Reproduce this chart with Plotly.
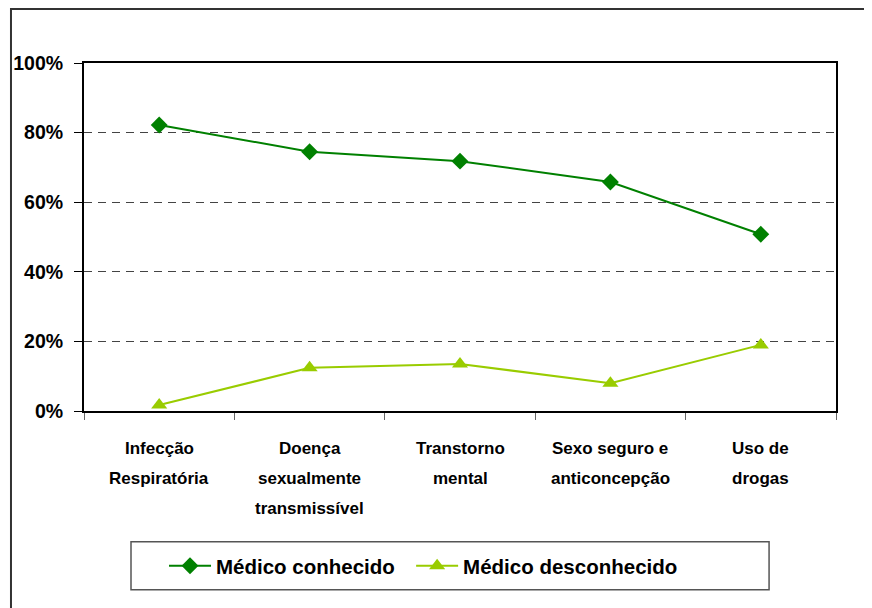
import plotly.graph_objects as go

categories = ["Infecção<br>Respiratória", "Doença<br>sexualmente<br>transmissível",
              "Transtorno<br>mental", "Sexo seguro e<br>anticoncepção", "Uso de<br>drogas"]
conhecido = [0.822, 0.745, 0.718, 0.658, 0.508]
desconhecido = [0.017, 0.124, 0.135, 0.080, 0.190]
series_names = ["Médico conhecido", "Médico desconhecido"]

FONT = "Liberation Sans"
fig = go.Figure()
fig.add_trace(go.Scatter(x=categories, y=conhecido, name=series_names[0], mode="lines+markers",
                         line=dict(color="#008000", width=2), legend="legend",
                         marker=dict(symbol="diamond", size=13, color="#008000")))
fig.add_trace(go.Scatter(x=categories, y=desconhecido, name=series_names[1], mode="lines+markers",
                         line=dict(color="#99CC00", width=2), legend="legend2",
                         marker=dict(symbol="triangle-up", size=14, color="#99CC00")))

# category labels with wide line spacing
for c in categories:
    for i, line in enumerate(c.split("<br>")):
        fig.add_annotation(x=c, y=0, xref="x", yref="paper", text=line, showarrow=False,
                           yanchor="middle", yshift=-(37 + 30 * i),
                           font=dict(family=FONT, size=17, color="black", weight="bold"))

shapes = [
    # outer frame (partially visible)
    dict(type="path", xref="paper", yref="paper",
         path="M -0.0971,-0.7 L -0.0971,1.155 L 1.1,1.155",
         line=dict(color="#333333", width=2)),
    # legend box
    dict(type="rect", xref="paper", yref="paper", x0=0.0625, x1=0.911, y0=-0.514, y1=-0.376,
         line=dict(color="#555555", width=1.5)),
]

leg_common = dict(orientation="h", y=-0.445, yanchor="middle", xanchor="left",
                  font=dict(family=FONT, size=20.5, color="black", weight="bold"),
                  itemwidth=42, bgcolor="rgba(0,0,0,0)", borderwidth=0)

fig.update_layout(
    width=864, height=600,
    margin=dict(l=76, r=36, t=55, b=197, autoexpand=False),
    paper_bgcolor="white", plot_bgcolor="white",
    font=dict(family=FONT, color="black"),
    showlegend=True,
    legend=dict(x=0.1064, **leg_common),
    legend2=dict(x=0.435, **leg_common),
    shapes=shapes,
    xaxis=dict(type="category", range=[-0.5, 4.5], tickson="boundaries", ticks="outside", ticklen=7,
               tickcolor="#666666", showticklabels=False, showgrid=False, automargin=False,
               showline=True, linecolor="black", linewidth=2, mirror=True),
    yaxis=dict(range=[0, 1], tickvals=[0, 0.2, 0.4, 0.6, 0.8, 1.0], tickformat=".0%",
               ticks="outside", ticklen=8, tickcolor="black", ticklabelstandoff=7,
               tickfont=dict(family=FONT, size=19.5, color="black", weight="bold"),
               showgrid=True, gridcolor="#444444", griddash="8px,6px", gridwidth=1,
               automargin=False,
               showline=True, linecolor="black", linewidth=2, mirror=True, zeroline=False),
)

fig.write_html("out.html")
